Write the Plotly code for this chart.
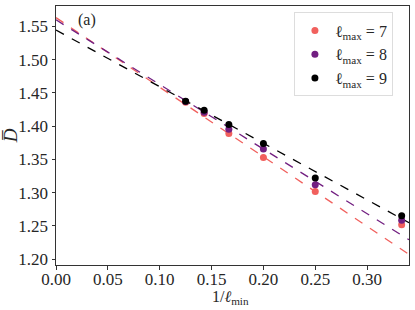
import plotly.graph_objects as go

# data
inv_lmin = [1/8, 1/7, 1/6, 1/5, 1/4, 1/3]
D_lmax7 = [1.436, 1.419, 1.389, 1.353, 1.302, 1.252]
D_lmax8 = [1.437, 1.421, 1.3955, 1.3655, 1.312, 1.2585]
D_lmax9 = [1.4375, 1.424, 1.4025, 1.374, 1.322, 1.2655]
series_labels = ["ℓ<sub>max</sub> = 7", "ℓ<sub>max</sub> = 8", "ℓ<sub>max</sub> = 9"]
fit_intercepts = [1.563, 1.5597, 1.5443]
fit_slopes = [-1.045, -0.9706, -0.850]
colors = ["#F1605D", "#721F81", "#000000"]

x_range = [0.0, 0.3404]
y_range = [1.1914, 1.5805]

font_family = "Liberation Serif, DejaVu Serif, serif"
txt_color = "#262626"

fig = go.Figure()
series = [D_lmax7, D_lmax8, D_lmax9]
for vals, lab, b, m, c in zip(series, series_labels, fit_intercepts, fit_slopes, colors):
    xl = [x_range[0], x_range[1]]
    fig.add_trace(go.Scatter(x=xl, y=[b + m * xv for xv in xl], mode="lines",
                             line=dict(color=c, width=1.3, dash="dash"),
                             showlegend=False, hoverinfo="skip"))
for vals, lab, c in zip(series, series_labels, colors):
    fig.add_trace(go.Scatter(x=inv_lmin, y=vals, mode="markers", name=lab,
                             marker=dict(color=c, size=7, line=dict(width=0))))

axis_common = dict(showline=True, linecolor="#333333", linewidth=1, mirror=True,
                   ticks="outside", ticklen=3.5, tickwidth=1, tickcolor="#333333",
                   showgrid=False, zeroline=False, automargin=False,
                   tickfont=dict(family=font_family, size=17, color=txt_color))

fig.update_layout(
    width=415, height=310,
    margin=dict(l=56, r=6, t=6, b=45, autoexpand=False),
    paper_bgcolor="white", plot_bgcolor="white",
    font=dict(family=font_family, size=17, color=txt_color),
    xaxis=dict(range=x_range, tickvals=[0, 0.05, 0.1, 0.15, 0.2, 0.25, 0.3],
               ticktext=["0.00", "0.05", "0.10", "0.15", "0.20", "0.25", "0.30"],
               ticklabelstandoff=-5,
               **axis_common),
    yaxis=dict(range=y_range, tickvals=[1.20, 1.25, 1.30, 1.35, 1.40, 1.45, 1.50, 1.55],
               ticktext=["1.20", "1.25", "1.30", "1.35", "1.40", "1.45", "1.50", "1.55"],
               title=dict(text="<i>D̅</i>", standoff=7,
                          font=dict(family=font_family, size=19, color=txt_color)),
               **axis_common),
    legend=dict(x=0.674, y=0.975, xanchor="left", yanchor="top",
                bgcolor="white", bordercolor="#dddddd", borderwidth=1,
                font=dict(family=font_family, size=16, color=txt_color),
                itemwidth=30),
    annotations=[
        dict(text="(a)", x=0.058, y=0.945, xref="paper", yref="paper",
             xanchor="left", yanchor="middle", showarrow=False,
             font=dict(family=font_family, size=16, color=txt_color)),
        dict(text="1/<i>ℓ</i><sub>min</sub>", x=0.493, y=-0.125, xref="paper", yref="paper",
             xanchor="center", yanchor="middle", showarrow=False,
             font=dict(family=font_family, size=16, color=txt_color)),
    ],
)

fig.write_html("out.html", config={"displayModeBar": False},
               post_script="document.body.style.margin='0';document.body.style.padding='0';")
